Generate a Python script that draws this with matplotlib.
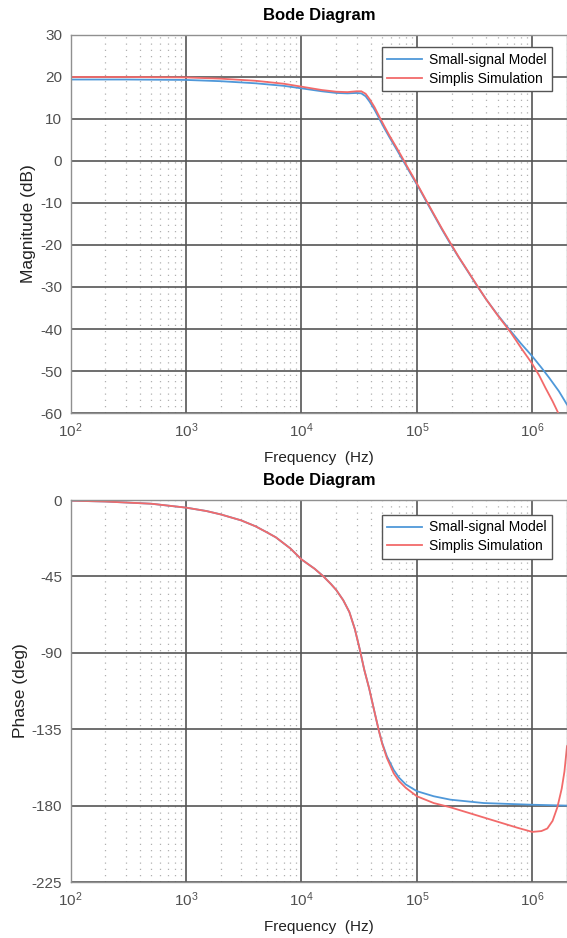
import matplotlib
matplotlib.use('Agg')
import matplotlib.pyplot as plt
import numpy as np

plt.rcParams['font.family'] = ['Liberation Sans', 'DejaVu Sans']
plt.rcParams['mathtext.fontset'] = 'custom'
plt.rcParams['mathtext.rm'] = 'Liberation Sans'
plt.rcParams['mathtext.it'] = 'Liberation Sans:italic'

# Magnitude (dB)
freq_mag = [100, 300, 1e3, 2e3, 4e3, 7e3, 1e4, 1.5e4, 2e4, 2.5e4, 3e4, 3.3e4, 3.6e4, 3.9e4,
            4.3e4, 4.7e4, 5.2e4, 5.8e4, 6.5e4, 7.3e4, 8.2e4, 9.2e4, 1.05e5, 1.2e5, 1.4e5,
            1.65e5, 1.95e5, 2.3e5, 2.75e5, 3.3e5, 4e5, 5e5, 6.5e5]
mag_model = [19.4, 19.4, 19.3, 19.0, 18.5, 17.9, 17.3, 16.6, 16.2, 16.1, 16.2, 16.1, 15.4, 14.1,
             12.2, 10.2, 7.9, 5.6, 3.3, 0.9, -1.5, -3.9, -6.6, -9.5, -12.8, -16.3, -19.7, -22.9,
             -26.2, -29.6, -33.0, -36.6, -40.5]
mag_simplis = [20.0, 20.0, 19.9, 19.6, 19.1, 18.4, 17.7, 16.9, 16.5, 16.4, 16.6, 16.6, 16.0, 14.7,
               12.8, 10.7, 8.4, 6.0, 3.7, 1.3, -1.2, -3.6, -6.4, -9.3, -12.6, -16.1, -19.5, -22.8,
               -26.1, -29.5, -33.0, -36.7, -40.8]
freq_mag_hi_model = [6.5e5, 8e5, 1e6, 1.2e6, 1.4e6, 1.7e6, 2e6]
mag_hi_model = [-40.5, -43.5, -46.5, -49.2, -51.6, -54.8, -58.0]
freq_mag_hi_simplis = [6.5e5, 8e5, 1e6, 1.15e6, 1.3e6, 1.5e6, 1.7e6]
mag_hi_simplis = [-40.8, -44.5, -48.3, -51.1, -54.0, -57.2, -60.3]

# Phase (deg)
freq_ph = [100, 200, 500, 1e3, 1.5e3, 2e3, 3e3, 4e3, 5e3, 6e3, 8e3, 1e4, 1.3e4, 1.55e4, 1.8e4,
           2e4, 2.3e4, 2.6e4, 2.9e4, 3.2e4, 3.5e4, 3.86e4, 4.2e4, 4.65e4, 5e4, 5.5e4]
ph_model = [-0.4, -0.9, -2.2, -4.5, -6.5, -8.5, -12, -15.5, -19, -22, -28.5, -35, -40.5, -45,
            -49.5, -53, -59, -66, -76, -88, -100, -111, -122, -135, -143, -151]
ph_simplis = [-0.4, -0.9, -2.2, -4.5, -6.5, -8.5, -12, -15.5, -19, -22, -28.5, -35, -40.5, -45,
              -49.5, -53, -59, -66, -76, -88, -100, -111, -122, -135, -143.5, -152]
freq_ph_hi_model = [5.5e4, 6.3e4, 7e4, 8e4, 1e5, 1.4e5, 1.95e5, 3.8e5, 1e6, 2e6]
ph_hi_model = [-151, -159, -163.5, -167.5, -171.5, -174.5, -176.5, -178.5, -179.5, -180]
freq_ph_hi_simplis = [5.5e4, 6.3e4, 7e4, 8e4, 1e5, 1.4e5, 1.95e5, 3.8e5, 7.4e5, 1e6, 1.2e6,
                      1.35e6, 1.5e6, 1.65e6, 1.8e6, 1.9e6, 2e6]
ph_hi_simplis = [-152, -161, -165.5, -169.5, -174.5, -178.5, -181, -187, -193, -195.5, -195,
                 -193.5, -189, -181, -170, -160, -145]

mag_ticks = [30, 20, 10, 0, -10, -20, -30, -40, -50, -60]
ph_ticks = [0, -45, -90, -135, -180, -225]

blue = '#4f98d9'
red = '#f26a6a'

fig = plt.figure(figsize=(5.67, 9.38), dpi=100)
W, H = 567, 938
left = 70.7
ax1 = fig.add_axes([left / W, 1 - 413 / H, (W - left) / W, (413 - 35) / H])
ax2 = fig.add_axes([left / W, 1 - 882 / H, (W - left) / W, (882 - 500) / H])


def style(ax, yticks, ylabel):
    ax.set_xscale('log')
    ax.set_xlim(100, 2e6)
    ax.set_ylim(yticks[-1], yticks[0])
    ax.set_yticks(yticks)
    ax.set_yticklabels([str(t) for t in yticks])
    ax.grid(which='major', color='#555555', linestyle='-', linewidth=1.2)
    ax.grid(which='minor', axis='x', color='#b0b0b0', linestyle=(0, (1, 4)), linewidth=0.9)
    ax.tick_params(which='both', direction='in', colors='#888888', labelcolor='#505050',
                   labelsize=11, top=False, right=False)
    ax.tick_params(which='major', length=0, pad=6)
    ax.tick_params(which='minor', length=0)
    for s in ax.spines.values():
        s.set_color('#909090')
        s.set_linewidth(1.0)
    ax.set_xlabel('Frequency  (Hz)', fontsize=11, color='#222222', labelpad=8)
    ax.set_ylabel(ylabel, fontsize=12.5, color='#222222', labelpad=3)
    ax.set_title('Bode Diagram', fontsize=12, fontweight='bold', pad=11)
    ax.set_axisbelow(True)


style(ax1, mag_ticks, 'Magnitude (dB)')
style(ax2, ph_ticks, 'Phase (deg)')

ax1.plot(freq_mag + freq_mag_hi_model[1:], mag_model + mag_hi_model[1:], color=blue, lw=1.3,
         label='Small-signal Model')
ax1.plot(freq_mag + freq_mag_hi_simplis[1:], mag_simplis + mag_hi_simplis[1:], color=red, lw=1.3,
         label='Simplis Simulation')

ax2.plot(freq_ph + freq_ph_hi_model[1:], ph_model + ph_hi_model[1:], color=blue, lw=1.3,
         label='Small-signal Model')
ax2.plot(freq_ph + freq_ph_hi_simplis[1:], ph_simplis + ph_hi_simplis[1:], color=red, lw=1.3,
         label='Simplis Simulation')

for ax, anchor in [(ax1, (0.970, 0.968)), (ax2, (0.970, 0.961))]:
    leg = ax.legend(loc='upper right', bbox_to_anchor=anchor, fontsize=10, fancybox=False,
                    framealpha=1, edgecolor='#555555', borderaxespad=0, handlelength=2.5,
                    handletextpad=0.5, borderpad=0.4, labelspacing=0.35)
    leg.get_frame().set_linewidth(1.0)

fig.savefig('out.png', dpi=100)
